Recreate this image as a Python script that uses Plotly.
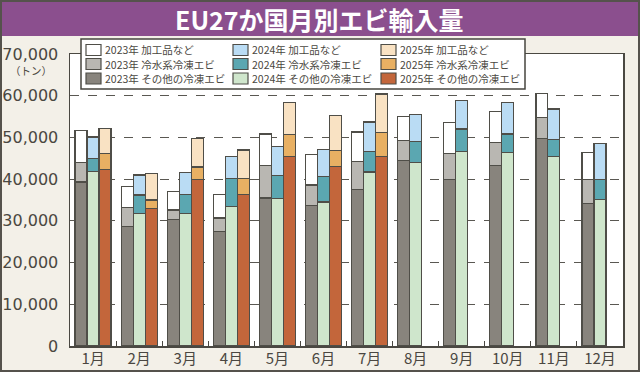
import plotly.graph_objects as go

# ---------------- data ----------------
months = ["1月", "2月", "3月", "4月", "5月", "6月", "7月", "8月", "9月", "10月", "11月", "12月"]
years = ["2023年", "2024年", "2025年"]
categories = ["加工品など", "冷水系冷凍エビ", "その他の冷凍エビ"]

other_2023 = [39300, 28700, 30400, 27500, 35500, 33700, 37600, 44400, 40000, 43200, 49800, 34200]
cold_2023 = [4600, 4500, 2200, 3200, 7700, 4900, 6700, 4900, 6200, 5600, 5000, 5800]
proc_2023 = [7800, 5100, 4500, 5600, 7600, 7300, 7000, 5700, 7400, 7500, 5700, 6400]

other_2024 = [41900, 31700, 31700, 33500, 35300, 34500, 41700, 43900, 46700, 46400, 45400, 35100]
cold_2024 = [3000, 4500, 4700, 6700, 5600, 6100, 5000, 5100, 5300, 4400, 4100, 4900]
proc_2024 = [5200, 4800, 5100, 5300, 6900, 6500, 7000, 6500, 6800, 7600, 7300, 8500]

other_2025 = [42300, 33000, 39900, 36400, 45500, 43100, 45500]
cold_2025 = [3800, 2000, 3000, 3700, 5200, 3700, 5700]
proc_2025 = [6100, 6300, 6900, 6900, 7700, 8400, 9200]

y_ticks = [0, 10000, 20000, 30000, 40000, 50000, 60000, 70000]
y_unit = "（トン）"
title = "EU27か国月別エビ輸入量"

# ---------------- styles ----------------
colors = {
    "2023年": ["#ffffff", "#b9b7b2", "#88847d"],
    "2024年": ["#badcf4", "#5ba7b1", "#cfe6cc"],
    "2025年": ["#f9e2c3", "#e8b063", "#c3663b"],
}
series = {
    "2023年": [proc_2023, cold_2023, other_2023],
    "2024年": [proc_2024, cold_2024, other_2024],
    "2025年": [proc_2025, cold_2025, other_2025],
}
offsets = {"2023年": -0.26, "2024年": 0.0, "2025年": 0.26}
BAR_W = 0.26
OUTLINE = "#4f4e48"
FONT = "Noto Sans CJK JP"
TEXT = "#4a4741"

W, H = 640, 372
L, R, T, B = 70, 17, 54, 26
PW, PH = W - L - R, H - T - B


def xp(px):
    return (px - L) / PW


def yp(py):
    return (H - B - py) / PH


fig = go.Figure()
for yr in years:
    proc, cold, other = series[yr]
    # stack bottom -> top: other, cold, processed
    for vals, col in ((other, colors[yr][2]), (cold, colors[yr][1]), (proc, colors[yr][0])):
        xs = [i + offsets[yr] for i in range(len(vals))]
        fig.add_trace(go.Bar(
            x=xs, y=vals, width=BAR_W,
            marker=dict(color=col, line=dict(color=OUTLINE, width=1.2)),
            showlegend=False, hoverinfo="skip",
        ))

shapes = []
annotations = []

# title bar
shapes.append(dict(type="rect", xref="paper", yref="paper",
                   x0=xp(0), x1=xp(W), y0=yp(36), y1=yp(0),
                   fillcolor="#8b4f8e", line=dict(width=0), layer="below"))
annotations.append(dict(xref="paper", yref="paper", x=xp(319), y=yp(19),
                        text=f"<b>{title}</b>", showarrow=False,
                        font=dict(family=FONT, size=25, color="#ffffff"),
                        xanchor="center", yanchor="middle"))
# outer border
shapes.append(dict(type="rect", xref="paper", yref="paper",
                   x0=xp(1), x1=xp(W - 1), y0=yp(H - 1), y1=yp(1),
                   fillcolor="rgba(0,0,0,0)", line=dict(color="#55524c", width=2), layer="above"))

# unit label
annotations.append(dict(xref="paper", yref="paper", x=xp(31), y=yp(70.5),
                        text=y_unit, showarrow=False,
                        font=dict(family=FONT, size=10.5, color=TEXT),
                        xanchor="center", yanchor="middle"))

# legend box
shapes.append(dict(type="rect", xref="paper", yref="paper",
                   x0=xp(81), x1=xp(525), y0=yp(89), y1=yp(39),
                   fillcolor="#ffffff", line=dict(color="#47453f", width=1.5), layer="above"))
col_x = [86, 233, 381]
row_y = [50, 64, 78.5]
for ci, yr in enumerate(years):
    for ri, cat in enumerate(categories):
        sx = col_x[ci]
        sy = row_y[ri]
        shapes.append(dict(type="rect", xref="paper", yref="paper",
                           x0=xp(sx), x1=xp(sx + 15), y0=yp(sy + 5.5), y1=yp(sy - 5.5),
                           fillcolor=colors[yr][ri], line=dict(color=OUTLINE, width=1.2), layer="above"))
        annotations.append(dict(xref="paper", yref="paper", x=xp(sx + 17), y=yp(sy),
                                text=f"{yr} {cat}", showarrow=False,
                                font=dict(family=FONT, size=10.5, color=TEXT),
                                xanchor="left", yanchor="middle"))

fig.update_layout(
    width=W, height=H,
    margin=dict(l=L, r=R, t=T, b=B, autoexpand=False),
    barmode="stack",
    paper_bgcolor="#f3f0e8",
    plot_bgcolor="#ffffff",
    showlegend=False,
    shapes=shapes,
    annotations=annotations,
    xaxis=dict(
        range=[-0.5, len(months) - 0.5],
        tickmode="array", tickvals=list(range(len(months))), ticktext=months,
        ticks="", showgrid=False, zeroline=False,
        showline=True, linecolor="#4a4842", linewidth=1.5, mirror=True,
        tickfont=dict(family=FONT, size=15, color=TEXT),
        ticklabelstandoff=-2,
        minor=dict(tickmode="array", tickvals=[i + 0.5 for i in range(len(months) - 1)],
                   ticks="inside", ticklen=5, tickcolor="#4a4842", tickwidth=1, showgrid=False),
    ),
    yaxis=dict(
        range=[0, 70000],
        tickmode="array", tickvals=y_ticks, tickformat=",",
        ticks="", ticklabelstandoff=7,
        showgrid=True, gridcolor="#5a5852", gridwidth=1, griddash="dash",
        zeroline=False,
        showline=True, linecolor="#4a4842", linewidth=1.5, mirror=True,
        tickfont=dict(family="DejaVu Sans", size=16, color=TEXT),
    ),
)

fig.write_html("out.html",
               config={"displayModeBar": False, "staticPlot": True},
               post_script="document.body.style.margin='0px';document.body.style.overflow='hidden';")
